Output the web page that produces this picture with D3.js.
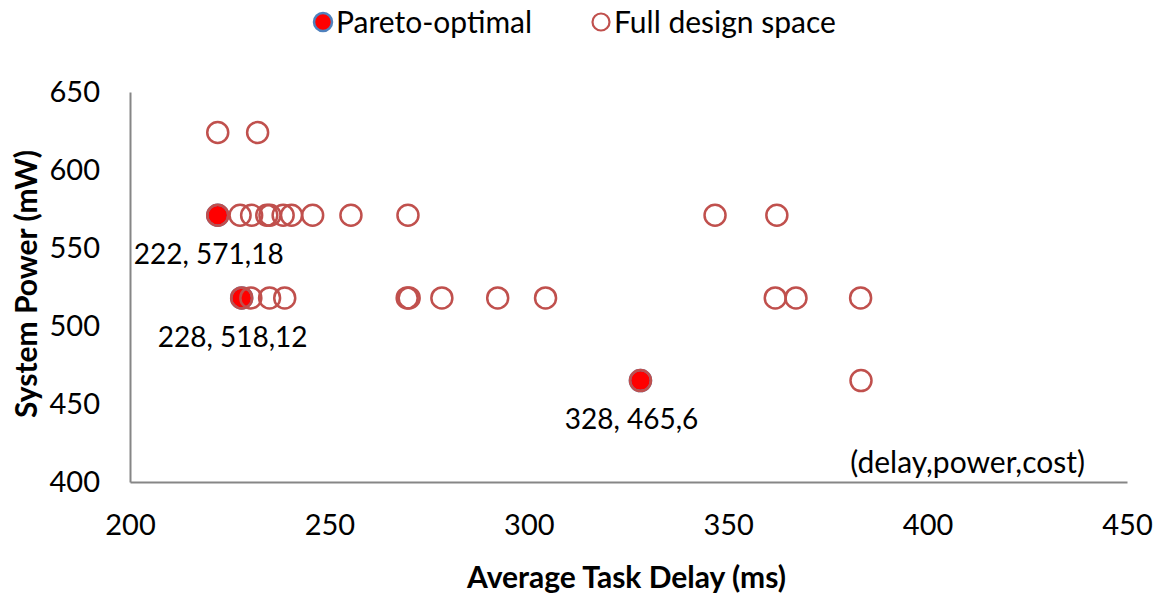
<!DOCTYPE html>
<html>
<head>
<meta charset="utf-8">
<script src="https://cdn.jsdelivr.net/npm/d3@7"></script>
<style>
body { margin: 0; background: #fff; }
text { font-family: Lato, "Open Sans", sans-serif; fill: #000; }
</style>
</head>
<body>
<script>
// pareto-optimal points (delay, power, cost)
var paretoDelay = [222, 228, 328]
var paretoPower = [571, 518, 465]
var paretoCost = [18, 12, 6]

// full design space
var fullDelay = [
    222, 232,
    222, 227.6, 230.5, 234.3, 235.1, 238.4, 240.5, 245.8, 255.4, 269.7, 346.7, 362.2,
    228, 230.3, 235, 238.8, 269.5, 270, 278.2, 292.2, 304.2, 361.8, 367, 383.2,
    328, 383.3
]
var fullPower = [
    624, 624,
    571, 571, 571, 571, 571, 571, 571, 571, 571, 571, 571, 571,
    518, 518, 518, 518, 518, 518, 518, 518, 518, 518, 518, 518,
    465, 465
]

var xTicks = [200, 250, 300, 350, 400, 450]
var yTicks = [400, 450, 500, 550, 600, 650]

// chart bounds
var margin = {top: 92, right: 30, bottom: 118, left: 130}
var width = 1157 - margin.left - margin.right
var height = 600 - margin.top - margin.bottom

var x = d3.scaleLinear().domain([200, 450]).range([0, width])
var y = d3.scaleLinear().domain([400, 650]).range([height, 0])

var svg = d3.select("body").append("svg").attr("width", 1157).attr("height", 600)
var main = svg.append("g").attr("transform", "translate(" + margin.left + "," + margin.top + ")")

// axes, no tick marks
var xAxis = d3.axisBottom(x).tickValues(xTicks).tickSize(0).tickPadding(32)
var gx = main.append("g").attr("transform", "translate(0," + height + ")").call(xAxis)
var yAxis = d3.axisLeft(y).tickValues(yTicks).tickSize(0).tickPadding(30)
var gy = main.append("g").call(yAxis)
svg.selectAll(".domain").attr("stroke", "#868686").attr("stroke-width", 2)
svg.selectAll(".tick text").style("font-size", "29px").style("font-family", "Lato, sans-serif")

// axis titles
main.append("text").attr("x", width / 2 - 2).attr("y", height + 106).attr("text-anchor", "middle")
    .style("font-size", "30px").style("font-weight", "bold").text("Average Task Delay (ms)")
main.append("text").attr("transform", "rotate(-90)").attr("x", -height / 2 + 3).attr("y", -104)
    .attr("dy", "0.35em").attr("text-anchor", "middle")
    .style("font-size", "30px").style("font-weight", "bold").text("System Power (mW)")

// pareto points drawn underneath
main.selectAll(".pareto").data(d3.range(paretoDelay.length)).enter().append("circle")
    .attr("class", "pareto")
    .attr("cx", function(i) { return x(paretoDelay[i]) })
    .attr("cy", function(i) { return y(paretoPower[i]) })
    .attr("r", 10.5).attr("fill", "#ff0000").attr("stroke", "#4f81bd").attr("stroke-width", 2.5)

// full design space on top
main.selectAll(".full").data(d3.range(fullDelay.length)).enter().append("circle")
    .attr("class", "full")
    .attr("cx", function(i) { return x(fullDelay[i]) })
    .attr("cy", function(i) { return y(fullPower[i]) })
    .attr("r", 10.5).attr("fill", "none").attr("stroke", "#c0504d").attr("stroke-width", 2.5)

// data labels under pareto points
main.selectAll(".lbl").data(d3.range(paretoDelay.length)).enter().append("text")
    .attr("x", function(i) { return x(paretoDelay[i]) - 9 })
    .attr("y", function(i) { return y(paretoPower[i]) + 39 })
    .attr("dy", "0.35em").attr("text-anchor", "middle").style("font-size", "28px")
    .text(function(i) { return paretoDelay[i] + ", " + paretoPower[i] + "," + paretoCost[i] })

main.append("text").attr("x", width - 42).attr("y", height - 20).attr("dy", "0.35em")
    .attr("text-anchor", "end").style("font-size", "30px").text("(delay,power,cost)")

// legend
var legend = svg.append("g").attr("transform", "translate(0,22)")
legend.append("circle").attr("cx", 323).attr("cy", 0).attr("r", 9).attr("fill", "#ff0000")
    .attr("stroke", "#4f81bd").attr("stroke-width", 2.5)
legend.append("text").attr("x", 336).attr("y", 0).attr("dy", "0.35em").style("font-size", "30px").text("Pareto-optimal")
legend.append("circle").attr("cx", 601).attr("cy", 0).attr("r", 8.5).attr("fill", "none")
    .attr("stroke", "#c0504d").attr("stroke-width", 2.2)
legend.append("text").attr("x", 614).attr("y", 0).attr("dy", "0.35em").style("font-size", "30px").text("Full design space")
</script>
</body>
</html>
